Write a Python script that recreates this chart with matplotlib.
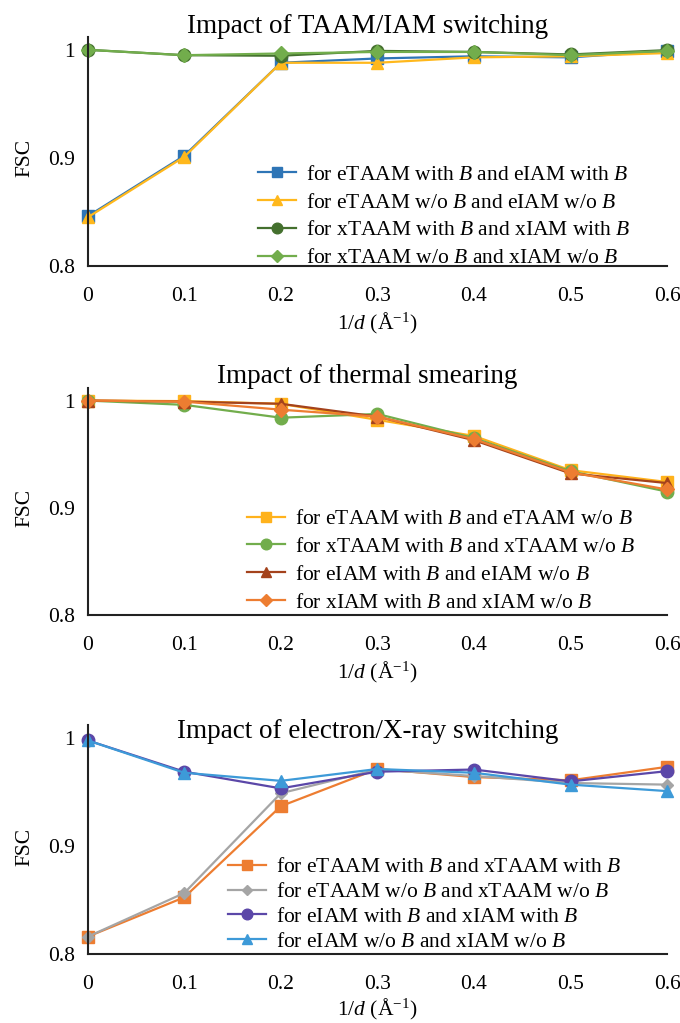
import matplotlib
matplotlib.use("Agg")
import matplotlib.pyplot as plt

plt.rcParams['font.family'] = ['Liberation Serif', 'DejaVu Serif']
plt.rcParams['mathtext.fontset'] = 'custom'
plt.rcParams['mathtext.rm'] = 'Liberation Serif'
plt.rcParams['mathtext.it'] = 'Liberation Serif:italic'

# resolution shells, 1/d in 1/Angstrom
res = [0, 0.1, 0.2, 0.3, 0.4, 0.5, 0.6]
xticks = [0, 0.1, 0.2, 0.3, 0.4, 0.5, 0.6]
xticklabels = ['0', '0.1', '0.2', '0.3', '0.4', '0.5', '0.6']
yticks = [0.8, 0.9, 1.0]
yticklabels = ['0.8', '0.9', '1']

titles = ['Impact of TAAM/IAM switching',
          'Impact of thermal smearing',
          'Impact of electron/X-ray switching']

# panel 1
p1_labels = ['for eTAAM with $B$ and eIAM with $B$',
             'for eTAAM w/o $B$ and eIAM w/o $B$',
             'for xTAAM with $B$ and xIAM with $B$',
             'for xTAAM w/o $B$ and xIAM w/o $B$']
p1_etaam_b = [0.846, 0.902, 0.988, 0.992, 0.994, 0.993, 0.999]
p1_etaam_nob = [0.845, 0.901, 0.988, 0.988, 0.993, 0.994, 0.997]
p1_xtaam_b = [1.000, 0.995, 0.9945, 0.999, 0.998, 0.9957, 0.9997]
p1_xtaam_nob = [1.000, 0.995, 0.9966, 0.998, 0.998, 0.995, 0.999]

# panel 2
p2_labels = ['for eTAAM with $B$ and eTAAM w/o $B$',
             'for xTAAM with $B$ and xTAAM w/o $B$',
             'for eIAM with $B$ and eIAM w/o $B$',
             'for xIAM with $B$ and xIAM w/o $B$']
p2_etaam = [1.000, 0.9995, 0.997, 0.982, 0.967, 0.935, 0.924]
p2_xtaam = [1.000, 0.996, 0.984, 0.9875, 0.965, 0.934, 0.915]
p2_eiam = [1.000, 0.999, 0.997, 0.985, 0.963, 0.932, 0.923]
p2_xiam = [1.000, 0.999, 0.9915, 0.985, 0.964, 0.933, 0.917]

# panel 3
p3_labels = ['for eTAAM with $B$ and xTAAM with $B$',
             'for eTAAM w/o $B$ and xTAAM w/o $B$',
             'for eIAM with $B$ and xIAM with $B$',
             'for eIAM w/o $B$ and xIAM w/o $B$']
p3_taam_b = [0.816, 0.8525, 0.937, 0.9715, 0.964, 0.961, 0.9735]
p3_taam_nob = [0.816, 0.8565, 0.949, 0.971, 0.965, 0.9585, 0.957]
p3_iam_b = [0.998, 0.969, 0.9535, 0.969, 0.971, 0.960, 0.9695]
p3_iam_nob = [0.998, 0.968, 0.9605, 0.9715, 0.968, 0.957, 0.951]

panels = [
    (p1_labels, [p1_etaam_b, p1_etaam_nob, p1_xtaam_b, p1_xtaam_nob],
     ['#2e75b6', '#ffb81c', '#44702e', '#72ad4c'], ['s', '^', 'o', 'D'],
     [9, 9, 9, 7]),
    (p2_labels, [p2_etaam, p2_xtaam, p2_eiam, p2_xiam],
     ['#ffb21c', '#72ad4c', '#a4421c', '#ed7d31'], ['s', 'o', '^', 'D'],
     [9, 9, 9, 7]),
    (p3_labels, [p3_taam_b, p3_taam_nob, p3_iam_b, p3_iam_nob],
     ['#ed7d31', '#a5a5a5', '#5b47a8', '#3d9ad8'], ['s', 'D', 'o', '^'],
     [9, 6, 9, 9]),
]

# axes rectangles in figure fraction (left, bottom, width, height)
rects = [(0.129, 0.740, 0.852, 0.224),
         (0.129, 0.399, 0.852, 0.222),
         (0.129, 0.0675, 0.852, 0.2235)]
title_y = [0.9677, 0.6256, 0.2786]
legend_anchor = [(0.294, -0.01), (0.275, 0.01), (0.242, 0.01)]
legend_spacing = [0.36, 0.36, 0.22]
xlabel_y = [-0.198, -0.198, -0.19]

fig = plt.figure(figsize=(6.8, 10.23), dpi=100)

for (labels, series, colors, markers, sizes), rect, ty, anchor, sp, xly, title in zip(
        panels, rects, title_y, legend_anchor, legend_spacing, xlabel_y, titles):
    ax = fig.add_axes(rect)
    for vals, lab, c, m, s in zip(series, labels, colors, markers, sizes):
        ax.plot(res, vals, color=c, marker=m, markersize=s, lw=1.6,
                label=lab, clip_on=False)
    ax.set_xlim(0, 0.6)
    ax.set_ylim(0.8, 1.012)
    ax.set_xticks(xticks)
    ax.set_xticklabels(xticklabels)
    ax.set_yticks(yticks)
    ax.set_yticklabels(yticklabels)
    ax.tick_params(length=0, labelsize=15.5)
    ax.tick_params(axis='x', pad=15)
    ax.tick_params(axis='y', pad=9)
    for side in ['top', 'right']:
        ax.spines[side].set_visible(False)
    for side in ['left', 'bottom']:
        ax.spines[side].set_linewidth(1.5)
        ax.spines[side].set_color('#222222')
    ax.set_ylabel('FSC', fontsize=15.5)
    ax.yaxis.set_label_coords(-0.092, 0.47)
    ax.set_xlabel('1/$d$ (Å$^{-1}$)', fontsize=15.5)
    ax.xaxis.set_label_coords(0.5, xly)
    ax.xaxis.label.set_va('top')
    fig.text(0.54, ty, title, fontsize=19.5, ha='center', va='baseline')
    ax.legend(loc='lower left', bbox_to_anchor=anchor, frameon=False,
              fontsize=15.5, borderpad=0, borderaxespad=0, handlelength=1.75,
              handletextpad=0.5, labelspacing=sp, markerscale=0.85)

fig.savefig('out.png', dpi=100)
